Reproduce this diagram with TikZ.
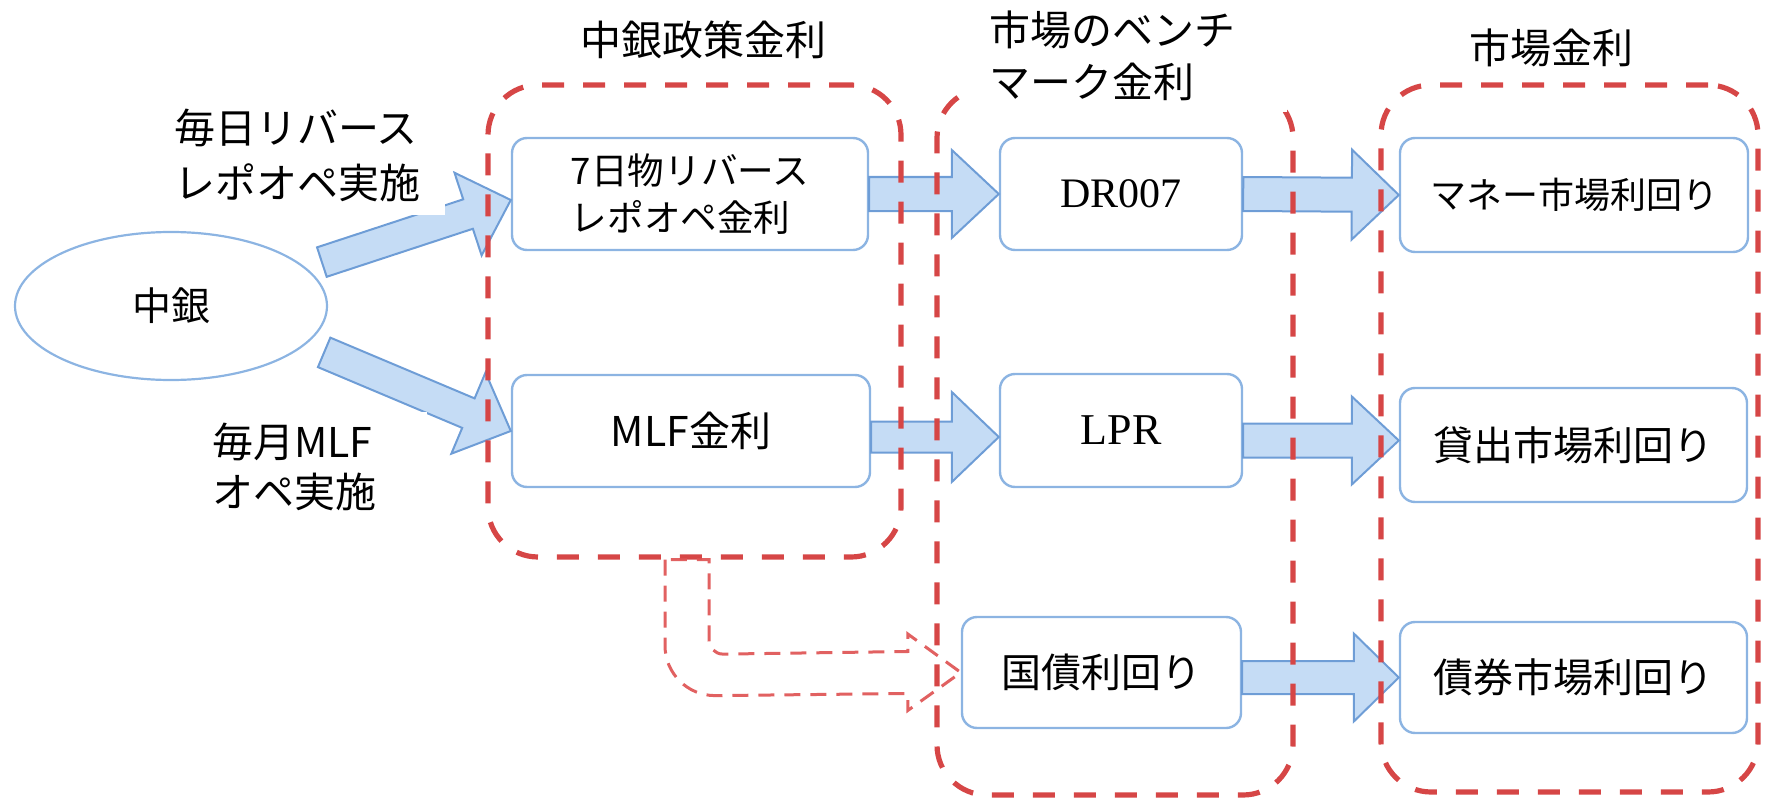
\documentclass[tikz,border=0pt]{standalone}
\usepackage{fontspec}
\setmainfont{Noto Sans CJK JP}
\newfontfamily\serifen{Liberation Serif}
\usetikzlibrary{calc,shapes.geometric}
\definecolor{boxblue}{RGB}{140,180,226}
\definecolor{arrfill}{RGB}{197,220,245}
\definecolor{arrdraw}{RGB}{110,157,214}
\definecolor{grpred}{RGB}{214,70,70}
\definecolor{bentred}{RGB}{222,80,80}
\newcommand\blockarr[5]{%
  \coordinate (hb) at ($(#2)!#5!(#1)$);
  \draw[barrow] ($(#1)!#3!90:(#2)$) -- ($(hb)!#3!90:(#2)$) -- ($(hb)!#4!90:(#2)$) -- (#2)
    -- ($(hb)!#4!-90:(#2)$) -- ($(hb)!#3!-90:(#2)$) -- ($(#1)!#3!-90:(#2)$) -- cycle;}
\begin{document}
\begin{tikzpicture}[x=0.5pt, y=-0.5pt,
  box/.style={draw=boxblue, line width=1.2pt, rounded corners=7.5pt, fill=white, minimum height=56pt, inner sep=0pt},
  barrow/.style={fill=arrfill, draw=arrdraw, line width=1pt, line join=miter},
  grp/.style={draw=grpred, line width=2.6pt, dash pattern=on 11pt off 9.5pt, rounded corners=25pt, inner sep=0pt},
  bent/.style={draw=bentred, line width=1.5pt, dash pattern=on 8pt off 5pt, opacity=0.9},
  lbl/.style={inner sep=0pt}]
\useasboundingbox (0,0) rectangle (1778,808);
% nodes
\node (chugin) [draw=boxblue, line width=1.1pt, ellipse, minimum width=156pt, minimum height=74pt, inner sep=0pt, font=\fontsize{19.5pt}{24pt}\selectfont] at (171,306) {中銀};
\node (repo) [box, minimum width=178pt, align=left, font=\fontsize{18.3pt}{23.5pt}\selectfont] at (690,194) {7日物リバース\\レポオペ金利};
\node (mlf) [box, minimum width=179pt, font=\fontsize{20.5pt}{24pt}\selectfont] at (691,431) {MLF金利};
\node (dr) [box, minimum width=121pt, font=\serifen\fontsize{21pt}{25pt}\selectfont] at (1121,194) {DR007};
\node (lpr) [box, minimum width=121pt, minimum height=56.5pt, font=\serifen\fontsize{22pt}{25pt}\selectfont] at (1121,430.5) {LPR};
\node (kokusai) [box, minimum width=139.5pt, minimum height=55.5pt, font=\fontsize{20pt}{24pt}\selectfont] at (1101.5,672.5) {国債利回り\hspace{14pt}};
\node (money) [box, minimum width=174pt, minimum height=57pt, font=\fontsize{18pt}{24pt}\selectfont] at (1574,195) {マネー市場利回り};
\node (kashi) [box, minimum width=173.5pt, minimum height=57pt, font=\fontsize{20pt}{24pt}\selectfont] at (1573.5,445) {貸出市場利回り};
\node (saiken) [box, minimum width=173.5pt, minimum height=55.5pt, font=\fontsize{20pt}{24pt}\selectfont] at (1573.5,677.5) {債券市場利回り};
% block arrows
\coordinate (t1) at ($(repo.west)+(0,6)$);
\coordinate (s1) at ($(chugin.16)!8.5pt!(t1)$);
\blockarr{s1}{t1}{7.75pt}{21.75pt}{22.5pt}
\coordinate (s2) at ($(chugin.-16)!10pt!(mlf.west)$);
\blockarr{s2}{mlf.west}{8pt}{22pt}{23pt}
\blockarr{repo.east}{dr.west}{8.5pt}{22pt}{23.5pt}
\coordinate (s4) at ($(mlf.east)+(0,6)$);
\coordinate (t4) at ($(lpr.west)+(0,6.5)$);
\blockarr{s4}{t4}{7.75pt}{22.5pt}{23.5pt}
\blockarr{dr.east}{money.west}{8.5pt}{22.5pt}{23.5pt}
\coordinate (s6) at ($(lpr.east)+(0,10)$);
\coordinate (t6) at ($(kashi.west)+(0,-4.5)$);
\blockarr{s6}{t6}{8.5pt}{22pt}{23.5pt}
\coordinate (s7) at (kokusai.east |- saiken.west);
\blockarr{s7}{saiken.west}{8.25pt}{22pt}{22.5pt}
% groups
\node (g1) [grp, minimum width=206.5pt, minimum height=236pt] at (694.5,321) {};
\node (g2) [grp, minimum width=178pt, minimum height=353.5pt] at (1115,441.5) {};
\node (g3) [grp, minimum width=188.5pt, minimum height=353.5pt] at (1569.5,438.5) {};
% bent dashed arrow
\coordinate (bo) at ($(g1.south)+(-29.5,0)$);
\draw[bent] (bo) -- ++(0,86) arc[start angle=180, end angle=90, radius=50]
  -- ($(kokusai.west)+(-53,21)$) -- ++(0,17) -- (kokusai.west)
  -- ($(kokusai.west)+(-53,-38.5)$) -- ++(0,17.5)
  -- ($(bo)+(58,94.5)$) arc[start angle=90, end angle=180, radius=14]
  -- ($(bo)+(44,0)$) -- cycle;
% labels
\node (h1) [lbl, font=\fontsize{20.5pt}{26pt}\selectfont] at (703,40) {中銀政策金利};
\node (h2) [lbl, fill=white, text width=137pt, align=left, inner xsep=12pt, minimum height=56pt, font=\fontsize{20.5pt}{26pt}\selectfont] at (1126,56) {市場のベンチ\\マーク金利};
\node (h3) [lbl, font=\fontsize{20.5pt}{26pt}\selectfont] at (1551,48) {市場金利};
\node (l1) [lbl, fill=white, text width=128.5pt, align=left, inner xsep=7pt, minimum height=60pt, font=\fontsize{20.5pt}{27.5pt}\selectfont] at (302.5,155) {毎日リバース\\レポオペ実施};
\node (l2) [lbl, fill=white, text width=101.5pt, align=left, inner xsep=6pt, minimum height=55pt, font=\fontsize{20.5pt}{25pt}\selectfont] at (313.5,467) {毎月MLF\\オペ実施};
\end{tikzpicture}
\end{document}
